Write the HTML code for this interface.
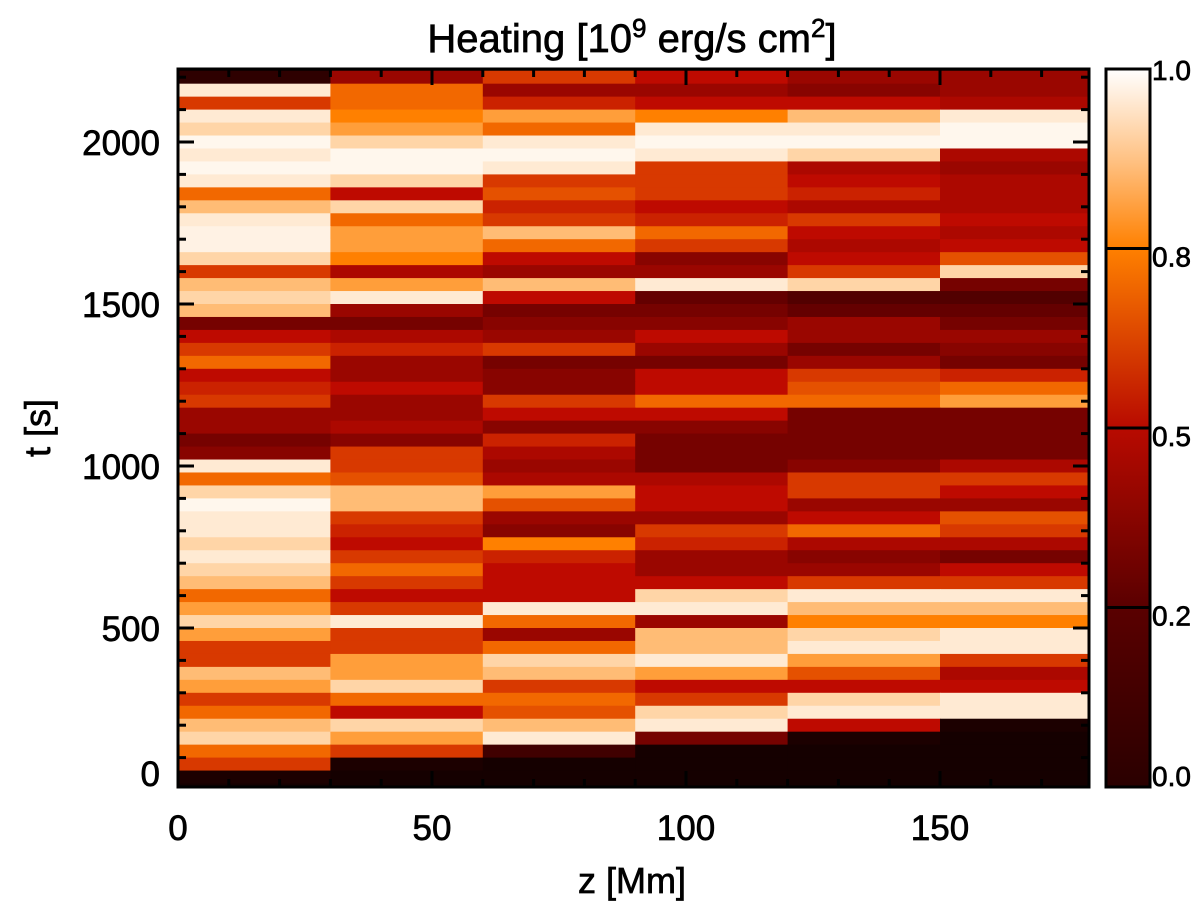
<!DOCTYPE html>
<html><head><meta charset="utf-8"><style>
html,body{margin:0;padding:0;background:#fff;}
svg{display:block;font-family:"Liberation Sans","DejaVu Sans",sans-serif;}
text{stroke:#000;stroke-width:0.7px;}
</style></head><body>
<svg id="chart" width="1200" height="903" viewBox="0 0 1200 903">
<defs>
<clipPath id="pclip"><rect x="178" y="69" width="911" height="718"/></clipPath>
<linearGradient id="cbgrad" x1="0" y1="1" x2="0" y2="0">
<stop offset="0" stop-color="#2a0000"/><stop offset="0.25" stop-color="#5a0000"/>
<stop offset="0.5" stop-color="#b80a00"/><stop offset="0.75" stop-color="#ff8000"/>
<stop offset="0.87" stop-color="#ffc080"/><stop offset="1" stop-color="#ffffff"/>
</linearGradient>
</defs>
<g id="cells" clip-path="url(#pclip)"></g>
<rect x="178" y="69" width="911" height="718" fill="none" stroke="#000" stroke-width="3"/>
<g id="ticks"></g>
<text x="632" y="52" font-size="40" text-anchor="middle">Heating [10<tspan dy="-15" font-size="26">9</tspan><tspan dy="15"> erg/s cm</tspan><tspan dy="-15" font-size="26">2</tspan><tspan dy="15">]</tspan></text>
<text x="632" y="893" font-size="36" text-anchor="middle">z [Mm]</text>
<text transform="translate(50,428) rotate(-90)" font-size="36" text-anchor="middle">t [s]</text>
<rect x="1106" y="69" width="44" height="718" fill="url(#cbgrad)" stroke="#000" stroke-width="3"/>
<g id="cbticks"></g>
</svg>
<script>
const zEdges=[0,30,60,90,120,150,180];
const tRowStarts=[2180,2140,2100,2060,2020,1980,1940,1900,1860,1820,1780,1740,1700,1660,1620,1580,1540,1500,1460,1420,1380,1340,1300,1260,1220,1180,1140,1100,1060,1020,980,940,900,860,820,780,740,700,660,620,580,540,500,460,420,380,340,300,260,220,180,140,100,60,20,-20];
const heatValues=[
[0.1,0.4,0.6,0.5,0.4,0.4],[0.95,0.7,0.4,0.4,0.35,0.4],[0.6,0.7,0.55,0.5,0.5,0.45],[0.95,0.75,0.8,0.75,0.85,0.95],
[0.9,0.8,0.7,0.95,0.95,0.98],[0.98,0.9,0.95,0.98,0.98,0.98],[0.95,0.98,0.98,0.95,0.9,0.45],[0.98,0.98,0.95,0.6,0.45,0.4],
[0.95,0.9,0.6,0.6,0.5,0.45],[0.7,0.5,0.65,0.6,0.55,0.45],[0.85,0.9,0.55,0.5,0.45,0.45],[0.95,0.7,0.6,0.55,0.6,0.5],
[0.97,0.8,0.85,0.7,0.5,0.45],[0.97,0.8,0.7,0.6,0.45,0.5],[0.9,0.75,0.5,0.35,0.5,0.65],[0.6,0.45,0.4,0.4,0.6,0.9],
[0.85,0.8,0.85,0.95,0.9,0.3],[0.9,0.95,0.5,0.25,0.2,0.2],[0.85,0.4,0.3,0.3,0.25,0.25],[0.3,0.3,0.35,0.35,0.4,0.3],
[0.5,0.45,0.4,0.5,0.4,0.4],[0.6,0.55,0.6,0.4,0.3,0.35],[0.7,0.4,0.3,0.3,0.4,0.3],[0.5,0.4,0.35,0.5,0.6,0.55],
[0.55,0.5,0.35,0.5,0.65,0.7],[0.6,0.4,0.6,0.7,0.7,0.8],[0.4,0.4,0.5,0.5,0.3,0.3],[0.4,0.45,0.35,0.35,0.3,0.3],
[0.3,0.35,0.55,0.3,0.3,0.3],[0.35,0.6,0.45,0.3,0.3,0.3],[0.95,0.6,0.4,0.3,0.35,0.45],[0.7,0.65,0.45,0.45,0.6,0.6],
[0.9,0.85,0.8,0.5,0.6,0.5],[0.98,0.85,0.65,0.5,0.4,0.4],[0.95,0.6,0.4,0.4,0.5,0.65],[0.95,0.55,0.35,0.6,0.7,0.6],
[0.9,0.5,0.75,0.55,0.45,0.45],[0.95,0.6,0.55,0.4,0.35,0.3],[0.9,0.7,0.5,0.4,0.4,0.5],[0.85,0.6,0.5,0.5,0.6,0.6],
[0.7,0.5,0.5,0.9,0.95,0.95],[0.8,0.6,0.95,0.95,0.85,0.85],[0.9,0.95,0.7,0.4,0.75,0.75],[0.8,0.6,0.4,0.85,0.9,0.95],
[0.6,0.6,0.7,0.85,0.95,0.95],[0.6,0.8,0.9,0.95,0.8,0.6],[0.85,0.8,0.85,0.8,0.65,0.45],[0.8,0.9,0.6,0.5,0.5,0.5],
[0.6,0.7,0.7,0.6,0.9,0.95],[0.7,0.5,0.65,0.9,0.95,0.95],[0.85,0.9,0.85,0.95,0.5,0.05],[0.9,0.8,0.95,0.3,0.05,0.03],
[0.7,0.6,0.15,0.03,0.03,0.03],[0.6,0.05,0.03,0.03,0.03,0.03],[0.05,0.03,0.03,0.03,0.03,0.03],[0.03,0.03,0.03,0.03,0.03,0.03]];
const xTicks=[0,50,100,150];
const yTicks=[0,500,1000,1500,2000];
const cbLabels=["1.0","0.8","0.5","0.2","0.0"];
const cbLabelFrac=[1,0.75,0.5,0.25,0];

const X0=178,XS=254/50, Y0=790, YS=0.324;
const xs=z=>X0+z*XS, ys=t=>Y0-t*YS;
const NS="http://www.w3.org/2000/svg";
const stops=[[0,[10,0,0]],[0.25,[100,0,0]],[0.5,[190,10,0]],[0.75,[255,128,0]],[0.87,[255,200,140]],[1,[255,255,255]]];
function cmap(v){for(let i=1;i<stops.length;i++){if(v<=stops[i][0]){const a=stops[i-1],b=stops[i],f=(v-a[0])/(b[0]-a[0]);return 'rgb('+a[1].map((c,k)=>Math.round(c+(b[1][k]-c)*f)).join(',')+')';}}return '#fff';}
const cells=document.getElementById('cells');
const bg=document.createElementNS(NS,'rect');
bg.setAttribute('x',178);bg.setAttribute('y',60);bg.setAttribute('width',911);bg.setAttribute('height',20);bg.setAttribute('fill','#100000');


cells.appendChild(bg);
tRowStarts.forEach((t,i)=>{heatValues[i].forEach((v,j)=>{
 const r=document.createElementNS(NS,'rect');
 r.setAttribute('x',xs(zEdges[j]));r.setAttribute('width',xs(zEdges[j+1])-xs(zEdges[j])+0.5);
 r.setAttribute('y',ys(t+40));r.setAttribute('height',ys(t)-ys(t+40)+0.5);
 r.setAttribute('fill',cmap(v));
 
 
 cells.appendChild(r);});});
const tk=document.getElementById('ticks');
function line(x1,y1,x2,y2,w){const l=document.createElementNS(NS,'line');l.setAttribute('x1',x1);l.setAttribute('y1',y1);l.setAttribute('x2',x2);l.setAttribute('y2',y2);l.setAttribute('stroke','#000');l.setAttribute('stroke-width',w||3);
 
 
 tk.appendChild(l);return l;}
function label(x,y,s,anchor,parent,name){const t=document.createElementNS(NS,'text');t.setAttribute('x',x);t.setAttribute('y',y);t.setAttribute('font-size','35');t.setAttribute('text-anchor',anchor);t.textContent=s;
 
 
 parent.appendChild(t);}
for(let z=10;z<180;z+=10){const big=z%50===0,L=big?16:8;line(xs(z),787,xs(z),787-L);line(xs(z),69,xs(z),69+L);}
for(let t=100;t<2225;t+=100){const big=t%500===0,L=big?16:8;line(178,ys(t),178+L,ys(t));line(1089,ys(t),1089-L,ys(t));}
xTicks.forEach(z=>label(xs(z),840,String(z),'middle',tk,'x-tick-label'));
yTicks.forEach(t=>label(160,Math.min(ys(t),773)+13,String(t),'end',tk,'y-tick-label'));
const cb=document.getElementById('cbticks');
cbLabelFrac.forEach((f,i)=>{const y=787-f*718;
 if(f>0&&f<1){const l=document.createElementNS(NS,'line');l.setAttribute('x1',1106);l.setAttribute('x2',1150);l.setAttribute('y1',y);l.setAttribute('y2',y);l.setAttribute('stroke','#000');l.setAttribute('stroke-width',3);
 
 
 cb.appendChild(l);}
 const ty=f===1?80:(f===0?786:y+18);
 const t=document.createElementNS(NS,'text');t.setAttribute('x',1152);t.setAttribute('y',ty);t.setAttribute('font-size','28');t.textContent=cbLabels[i];
 
 
 cb.appendChild(t);});
</script>
</body></html>
